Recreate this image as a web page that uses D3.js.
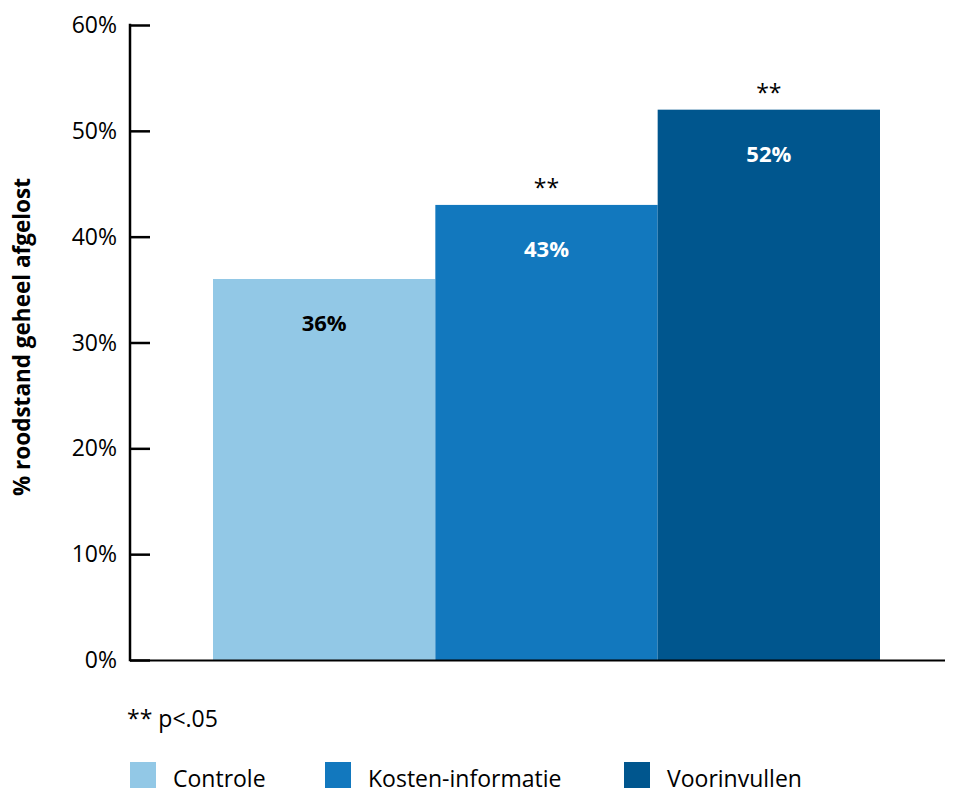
<!DOCTYPE html>
<html>
<head>
<meta charset="utf-8">
<script src="https://cdn.jsdelivr.net/npm/d3@7"></script>
<style>
  body { margin: 0; background: #fff; }
  svg { display: block; font-family: "Open Sans", "Noto Sans", sans-serif; }
</style>
</head>
<body>
<svg id="chart" width="958" height="793"></svg>
<script>
// Aandeel met volledig afgeloste roodstand per conditie
const categories = ["Controle", "Kosten-informatie", "Voorinvullen"];
const values = [0.36, 0.43, 0.52];
const significant = [false, true, true];
const colors = ["#92c8e6", "#1278be", "#00568e"];
const labelColors = ["#000000", "#ffffff", "#ffffff"];
const yTicks = [0, 0.1, 0.2, 0.3, 0.4, 0.5, 0.6];
const yTitle = "% roodstand geheel afgelost";
const footnote = "** p<.05";

(function () {
  const svg = d3.select("#chart");
  const axisX = 130, axisRight = 945, plotTop = 25, plotBottom = 660;

  const y = d3.scaleLinear().domain([0, 0.6]).range([plotBottom, plotTop]);
  const x = d3.scaleBand().domain(categories).range([213, 880]).padding(0);

  // Staven
  svg.selectAll("rect.bar").data(categories).join("rect")
    .attr("class", "bar")
    .attr("x", d => x(d))
    .attr("y", (d, i) => y(values[i]))
    .attr("width", x.bandwidth())
    .attr("height", (d, i) => plotBottom - y(values[i]))
    .attr("fill", (d, i) => colors[i]);

  // Waardelabels in de staven
  svg.selectAll("text.val").data(categories).join("text")
    .attr("class", "val")
    .attr("x", d => x(d) + x.bandwidth() / 2)
    .attr("y", (d, i) => y(values[i]) + 52)
    .attr("text-anchor", "middle")
    .attr("font-size", 22)
    .attr("font-weight", 700)
    .attr("fill", (d, i) => labelColors[i])
    .text((d, i) => Math.round(values[i] * 100) + "%");

  // Significantie-sterren
  svg.selectAll("text.sig").data(categories.filter((d, i) => significant[i])).join("text")
    .attr("class", "sig")
    .attr("x", d => x(d) + x.bandwidth() / 2)
    .attr("y", d => y(values[categories.indexOf(d)]) - 9)
    .attr("text-anchor", "middle")
    .attr("font-size", 23)
    .attr("fill", "#000")
    .text("**");

  // Y-as
  const yAxis = d3.axisRight(y).tickValues(yTicks).tickSize(20).tickFormat("");
  const gy = svg.append("g").attr("transform", `translate(${axisX},0)`).call(yAxis);
  gy.select(".domain").remove();
  gy.selectAll(".tick line").attr("stroke", "#000").attr("stroke-width", 2.5);
  svg.append("line")
    .attr("x1", axisX).attr("x2", axisX)
    .attr("y1", plotTop - 1.2).attr("y2", plotBottom + 1.2)
    .attr("stroke", "#000").attr("stroke-width", 2.5);

  svg.selectAll("text.ytick").data(yTicks).join("text")
    .attr("class", "ytick")
    .attr("x", 117)
    .attr("y", d => y(d) + 8)
    .attr("text-anchor", "end")
    .attr("font-size", 23)
    .attr("fill", "#000")
    .text(d => Math.round(d * 100) + "%");

  // X-as basislijn
  svg.append("line")
    .attr("x1", axisX).attr("x2", axisRight)
    .attr("y1", plotBottom + 0.5).attr("y2", plotBottom + 0.5)
    .attr("stroke", "#000").attr("stroke-width", 2);

  // Astitel
  svg.append("text")
    .attr("transform", `translate(30,337) rotate(-90)`)
    .attr("text-anchor", "middle")
    .attr("font-size", 22.5)
    .attr("font-weight", 700)
    .attr("fill", "#000")
    .text(yTitle);

  // Voetnoot
  svg.append("text")
    .attr("x", 127).attr("y", 727)
    .attr("font-size", 23)
    .attr("fill", "#000")
    .text(footnote);

  // Legenda
  const legendX = [130, 325, 624];
  const lg = svg.selectAll("g.legend").data(categories).join("g")
    .attr("class", "legend")
    .attr("transform", (d, i) => `translate(${legendX[i]},762)`);
  lg.append("rect").attr("width", 26).attr("height", 26).attr("fill", (d, i) => colors[i]);
  lg.append("text").attr("x", 43).attr("y", 25)
    .attr("font-size", 23).attr("fill", "#000").text(d => d);
})();
</script>
</body>
</html>
